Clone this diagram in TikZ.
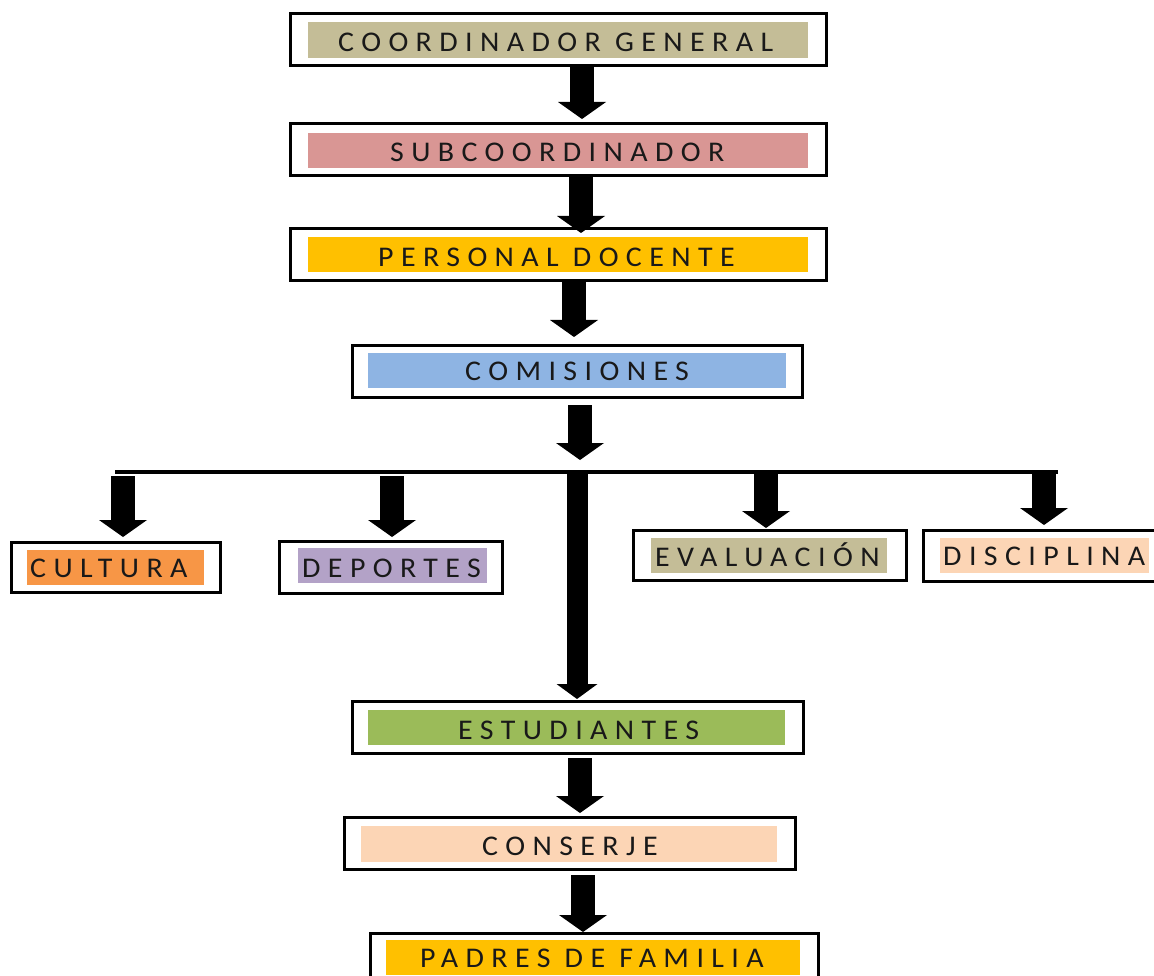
\documentclass[tikz,border=0pt]{standalone}
\usepackage{fontspec}
\newfontfamily\labfont{Carlito}[LetterSpace=26,FakeStretch=1.05]
\usetikzlibrary{arrows.meta}
\definecolor{ctan}{HTML}{C4BD97}
\definecolor{crose}{HTML}{D99694}
\definecolor{cgold}{HTML}{FFC000}
\definecolor{cblue}{HTML}{8EB4E3}
\definecolor{corange}{HTML}{F79646}
\definecolor{clilac}{HTML}{B3A2C7}
\definecolor{cpeach}{HTML}{FCD5B5}
\definecolor{cgreen}{HTML}{9BBB59}
\tikzset{
  frame/.style={draw=black, line width=3pt, fill=white, inner sep=0pt, rectangle},
  band/.style={fill=#1, draw=none, inner sep=0pt, rectangle},
  lab/.style={font={\labfont\fontsize{28.5}{31}\selectfont}, inner sep=0pt, anchor=base west, text=black!90},
  blockarrow/.style={line width=24pt, -{Triangle[width=48pt,length=17pt,line width=0pt]}},
  thinarrow/.style={line width=21pt, -{Triangle[width=41pt,length=15pt,line width=0pt]}},
  hline/.style={line width=3.5pt},
}
\begin{document}
\begin{tikzpicture}[x=1pt,y=-1pt]
\useasboundingbox[fill=white] (0,0) rectangle (1154,976);
% ---- boxes
\node[frame, minimum width=536, minimum height=52] (b1) at (558,40) {};
\node[band=ctan, minimum width=500, minimum height=36] (b1f) at (558,40) {};
\node[lab] (b1t) at (338,52) {COORDINADOR GENERAL};

\node[frame, minimum width=536, minimum height=52] (b2) at (558,150) {};
\node[band=crose, minimum width=500, minimum height=35] (b2f) at (558,150.5) {};
\node[lab] (b2t) at (390,162) {SUBCOORDINADOR};

\node[frame, minimum width=536, minimum height=52] (b3) at (558,255) {};
\node[band=cgold, minimum width=500, minimum height=35] (b3f) at (558,254.5) {};
\node[lab] (b3t) at (378,267) {PERSONAL DOCENTE};

\node[frame, minimum width=450, minimum height=52] (b4) at (577,371) {};
\node[band=cblue, minimum width=418, minimum height=35] (b4f) at (577,370.5) {};
\node[lab] (b4t) at (465,380) {COMISIONES};

\node[frame, minimum width=209, minimum height=50] (c1) at (115.5,567) {};
\node[band=corange, minimum width=177, minimum height=35] (c1f) at (115.5,567.5) {};
\node[lab] (c1t) at (30,577) {CULTURA};

\node[frame, minimum width=223, minimum height=52] (c2) at (390.5,567) {};
\node[band=clilac, minimum width=189, minimum height=35] (c2f) at (392.5,565.5) {};
\node[lab] (c2t) at (302,577) {DEPORTES};

\node[frame, minimum width=273, minimum height=50] (c3) at (769.5,555) {};
\node[band=ctan, minimum width=236, minimum height=35] (c3f) at (769,555.5) {};
\node[lab] (c3t) at (655,566) {EVALUACIÓN};

\node[frame, minimum width=237, minimum height=51] (c4) at (1041.5,555.5) {};
\node[band=cpeach, minimum width=209, minimum height=35] (c4f) at (1044.5,555.5) {};
\node[lab] (c4t) at (943,565) {DISCIPLINA};

\node[frame, minimum width=451, minimum height=52] (b5) at (577.5,727) {};
\node[band=cgreen, minimum width=417, minimum height=35] (b5f) at (576.5,727.5) {};
\node[lab] (b5t) at (458,739) {ESTUDIANTES};

\node[frame, minimum width=451, minimum height=52] (b6) at (569.5,843) {};
\node[band=cpeach, minimum width=416, minimum height=36] (b6f) at (569,844) {};
\node[lab] (b6t) at (482,855) {CONSERJE};

\node[frame, minimum width=448, minimum height=52] (b7) at (594,959) {};
\node[band=cgold, minimum width=414, minimum height=35] (b7f) at (593,957.5) {};
\node[lab] (b7t) at (420,967) {PADRES DE FAMILIA};

% ---- connector coordinates
\coordinate (a1s) at (582,66);  \coordinate (a1e) at (582,119);
\coordinate (a2s) at (581,177); \coordinate (a2e) at (581,233);
\coordinate (a3s) at (574,281); \coordinate (a3e) at (574,337);
\coordinate (a4s) at (580,405); \coordinate (a4e) at (580,460);
\coordinate (hl) at (115,472);  \coordinate (hr) at (1058,472);
\coordinate (k1s) at (123,476); \coordinate (k1e) at (123,537);
\coordinate (k2s) at (392,476); \coordinate (k2e) at (392,537);
\coordinate (k3s) at (766,474); \coordinate (k3e) at (766,528);
\coordinate (k4s) at (1044,474); \coordinate (k4e) at (1044,525);
\coordinate (ms) at (577,472);  \coordinate (me) at (577,699);
\coordinate (a5s) at (580,758); \coordinate (a5e) at (580,813);
\coordinate (a6s) at (583,875); \coordinate (a6e) at (583,932);

\draw[blockarrow] (a1s) -- (a1e);
\draw[blockarrow] (a2s) -- (a2e);
\draw[blockarrow] (a3s) -- (a3e);
\draw[blockarrow] (a4s) -- (a4e);
\draw[hline] (hl) -- (hr);
\draw[blockarrow] (k1s) -- (k1e);
\draw[blockarrow] (k2s) -- (k2e);
\draw[blockarrow] (k3s) -- (k3e);
\draw[blockarrow] (k4s) -- (k4e);
\draw[thinarrow] (ms) -- (me);
\draw[blockarrow] (a5s) -- (a5e);
\draw[blockarrow] (a6s) -- (a6e);
\end{tikzpicture}
\end{document}
